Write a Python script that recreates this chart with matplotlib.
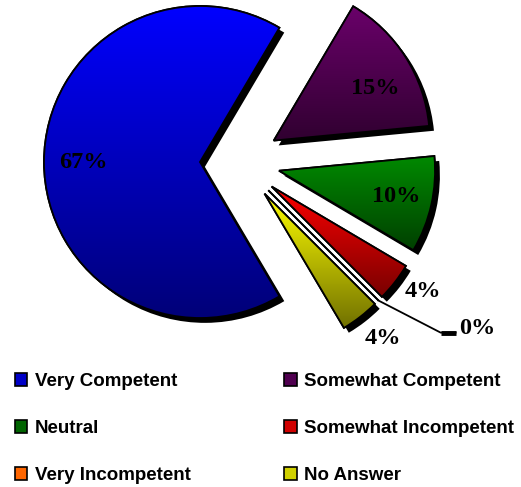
import numpy as np
import matplotlib.pyplot as plt
from matplotlib import patheffects
from matplotlib.patches import Patch, Wedge
from matplotlib.colors import LinearSegmentedColormap

categories = ['Very Competent', 'Somewhat Competent', 'Neutral',
              'Somewhat Incompetent', 'Very Incompetent', 'No Answer']
shares = [67, 15, 10, 4, 0, 4]

# each slice is shaded from a bright top to a darker bottom
top_colors = ['#0000ff', '#6a006a', '#008a00', '#ff0000', '#ff6a00', '#ffff00']
bottom_colors = ['#000078', '#300030', '#004000', '#780000', '#803000', '#707000']
legend_colors = ['#0000c8', '#500050', '#006400', '#d00000', '#ff6600', '#d0d000']

# label placement: fraction of radius and angular nudge (degrees)
label_dist = [0.75, 0.73, 0.77, 1.18, None, 1.2]
label_turn = [0, -5, 0, 3, 0, 1.5]

plt.rcParams['font.family'] = ['Liberation Sans', 'DejaVu Sans']

fig = plt.figure(figsize=(5.21, 4.87), dpi=100)
ax = fig.add_axes([0, 0, 1, 1])

shadow = [patheffects.SimplePatchShadow(offset=(3.5, -3.5), shadow_rgbFace='black', alpha=1.0),
          patheffects.Normal()]

wedges, _ = ax.pie(shares, center=(240, 325), radius=156, startangle=-59.4,
                   counterclock=False, explode=[40] * len(shares), frame=True,
                   colors=bottom_colors,
                   wedgeprops=dict(edgecolor='black', linewidth=1.3))

grad = np.linspace(0, 1, 256).reshape(-1, 1)
for w, top, bottom in zip(wedges, top_colors, bottom_colors):
    w.set_path_effects(shadow)
    w.set_zorder(1)
    x0, y0, x1, y1 = w.get_path().get_extents().extents
    cmap = LinearSegmentedColormap.from_list('shade', [bottom, top])
    im = ax.imshow(grad, cmap=cmap, origin='lower', extent=[x0, x1, y0, y1],
                   aspect='auto', zorder=2, interpolation='bilinear')
    im.set_clip_path(w)
    # outline on top of the gradient fill
    ax.add_patch(Wedge(w.center, w.r, w.theta1, w.theta2, fill=False,
                       edgecolor='black', linewidth=1.3, zorder=3))

label_font = dict(family='Liberation Serif', fontweight='bold', fontsize=17.5)
for w, val, d, turn in zip(wedges, shares, label_dist, label_turn):
    th = np.deg2rad((w.theta1 + w.theta2) / 2 + turn)
    if d is None:
        # zero slice: leader line out to the right
        tip_x = w.center[0] + w.r * np.cos(th)
        tip_y = w.center[1] + w.r * np.sin(th)
        ax.plot([tip_x, tip_x + 62, tip_x + 77], [tip_y, tip_y - 32, tip_y - 32],
                color='black', lw=1.3, zorder=4)
        ax.plot([tip_x + 62, tip_x + 77], [tip_y - 32, tip_y - 32],
                color='black', lw=3.5, zorder=4, solid_capstyle='butt')
        ax.text(tip_x + 81, tip_y - 28, f'{val}%', ha='left', va='center',
                zorder=5, **label_font)
        continue
    x = w.center[0] + d * w.r * np.cos(th)
    y = w.center[1] + d * w.r * np.sin(th)
    ax.text(x, y, f'{val}%', ha='center', va='center', zorder=5, **label_font)

# legend filled column by column, so reorder to read across rows
order = [0, 2, 4, 1, 3, 5]
handles = [Patch(facecolor=legend_colors[i], edgecolor='black', linewidth=1.2) for i in order]
fig.legend(handles, [categories[i] for i in order], ncol=2, loc='upper left',
           bbox_to_anchor=(15 / 521, (487 - 373) / 487), frameon=False,
           prop=dict(family='Liberation Sans', weight='bold', size=13.5),
           handlelength=0.65, handleheight=0.65, handletextpad=0.4,
           labelspacing=1.6, columnspacing=5.0, borderpad=0, borderaxespad=0)

ax.set_xlim(0, 521)
ax.set_ylim(0, 487)
ax.set_aspect('equal')
ax.axis('off')

fig.savefig('out.png', dpi=100)
